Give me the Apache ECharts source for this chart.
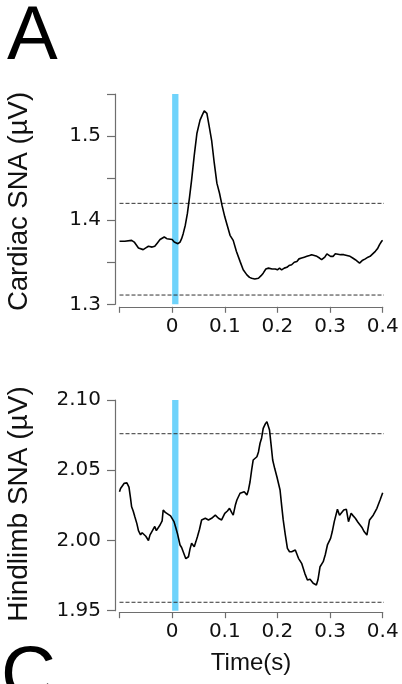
<!DOCTYPE html>
<html>
<head>
<meta charset="utf-8">
<script src="https://cdn.jsdelivr.net/npm/echarts@6/dist/echarts.min.js"></script>
<style>
html,body{margin:0;padding:0;background:#fff;}
#c{width:402px;height:684px;}
</style>
</head>
<body>
<div id="c"></div>
<script>
// ---- data ----
const cardiacTime = [-0.1,-0.09,-0.077,-0.072,-0.064,-0.055,-0.05,-0.045,-0.038,-0.033,-0.028,-0.023,-0.015,-0.01,-0.007,0,0.004,0.007,0.011,0.015,0.018,0.021,0.025,0.029,0.033,0.037,0.042,0.047,0.053,0.058,0.061,0.066,0.07,0.075,0.08,0.085,0.09,0.095,0.1,0.105,0.11,0.116,0.122,0.129,0.135,0.142,0.147,0.151,0.157,0.164,0.169,0.173,0.178,0.183,0.19,0.196,0.2,0.204,0.208,0.213,0.218,0.222,0.227,0.232,0.237,0.241,0.246,0.251,0.256,0.261,0.265,0.27,0.275,0.28,0.284,0.29,0.294,0.297,0.301,0.306,0.31,0.313,0.32,0.326,0.332,0.338,0.343,0.348,0.352,0.356,0.361,0.367,0.372,0.376,0.381,0.386,0.39,0.394,0.398,0.4];
const cardiacValues = [1.375,1.375,1.376,1.374,1.367,1.365,1.367,1.369,1.368,1.369,1.373,1.377,1.380,1.378,1.377,1.377,1.374,1.372,1.372,1.374,1.378,1.384,1.394,1.408,1.427,1.448,1.477,1.503,1.519,1.526,1.530,1.527,1.513,1.495,1.468,1.444,1.432,1.417,1.404,1.393,1.382,1.376,1.363,1.351,1.341,1.335,1.332,1.331,1.330,1.331,1.334,1.337,1.342,1.343,1.342,1.342,1.341,1.343,1.341,1.343,1.344,1.346,1.347,1.350,1.351,1.354,1.355,1.356,1.357,1.358,1.359,1.358,1.357,1.355,1.353,1.356,1.360,1.360,1.357,1.357,1.360,1.360,1.359,1.359,1.358,1.357,1.355,1.353,1.351,1.349,1.352,1.354,1.356,1.357,1.360,1.363,1.366,1.371,1.375,1.376];
const hindlimbTime = [-0.1,-0.098,-0.095,-0.091,-0.086,-0.082,-0.079,-0.077,-0.074,-0.071,-0.067,-0.064,-0.06,-0.057,-0.055,-0.05,-0.045,-0.042,-0.039,-0.033,-0.03,-0.028,-0.023,-0.019,-0.017,-0.013,-0.01,-0.003,0.0035,0.007,0.01,0.015,0.018,0.021,0.026,0.031,0.034,0.037,0.042,0.045,0.048,0.052,0.056,0.063,0.066,0.069,0.075,0.082,0.088,0.094,0.1,0.105,0.109,0.113,0.116,0.12,0.123,0.129,0.137,0.142,0.145,0.148,0.151,0.154,0.161,0.164,0.167,0.17,0.173,0.177,0.18,0.185,0.188,0.191,0.195,0.199,0.205,0.208,0.211,0.215,0.219,0.223,0.227,0.234,0.24,0.246,0.252,0.257,0.262,0.268,0.274,0.277,0.281,0.287,0.291,0.295,0.301,0.304,0.308,0.314,0.318,0.321,0.326,0.331,0.335,0.34,0.344,0.348,0.353,0.357,0.361,0.365,0.37,0.375,0.382,0.389,0.395,0.4];
const hindlimbValues = [2.0347,2.037,2.036,2.0407,2.041,2.038,2.030,2.024,2.021,2.017,2.012,2.007,2.004,2.0055,2.0055,2.003,2.000,2.004,2.006,2.010,2.007,2.008,2.011,2.014,2.0217,2.020,2.019,2.0175,2.0134,2.009,2.005,1.9968,1.995,1.992,1.987,1.9884,1.994,1.998,1.9956,1.999,2.0027,2.008,2.0146,2.0158,2.0145,2.0146,2.0158,2.018,2.0158,2.0146,2.0193,2.021,2.0229,2.020,2.018,2.025,2.0288,2.0336,2.0347,2.0324,2.036,2.0418,2.050,2.0573,2.0596,2.063,2.0692,2.073,2.0798,2.083,2.0846,2.0786,2.068,2.0573,2.051,2.0454,2.0359,2.025,2.0146,2.004,1.9944,1.992,1.992,1.9932,1.9873,1.9837,1.9766,1.9719,1.9724,1.9695,1.9683,1.972,1.9813,1.9849,1.990,1.9968,2.0015,2.006,2.0134,2.0222,2.018,2.0169,2.0217,2.0222,2.0134,2.0193,2.0175,2.0158,2.013,2.011,2.009,2.0062,2.0039,2.0146,2.018,2.0229,2.0288,2.034];
const cardiacThresholds = [1.42, 1.311];
const hindlimbThresholds = [2.076, 1.956];
const stimWindow = [0, 0.012];
const xTickLabels = ['', '0', '0.1', '0.2', '0.3', '0.4'];
const xTickValues = [-0.1, 0, 0.1, 0.2, 0.3, 0.4];
const dashedSpan = [-0.1, 0.41];

// ---- chart ----
const chart = echarts.init(document.getElementById('c'), null, {renderer: 'canvas'});
const axisColor = '#6e6e6e';
const labelFont = 'DejaVu Sans';

function xLabel(v) {
  for (let i = 0; i < xTickValues.length; i++) {
    if (Math.abs(xTickValues[i] - v) < 1e-6) return xTickLabels[i];
  }
  return '';
}

function makeX(gridIndex, offset) {
  return {
    type: 'value', gridIndex: gridIndex, min: -0.1, max: 0.4, interval: 0.1,
    offset: offset,
    splitLine: {show: false},
    axisLine: {show: true, onZero: false, lineStyle: {color: axisColor, width: 1.2}},
    axisTick: {show: true, length: 6, lineStyle: {color: axisColor, width: 1.2}},
    axisLabel: {formatter: xLabel, fontFamily: labelFont, fontSize: 20, color: '#111', margin: 10}
  };
}

function makeY(gridIndex, min, max, fmt) {
  return {
    type: 'value', gridIndex: gridIndex, min: min, max: max, interval: 0.05, offset: 4.5,
    splitLine: {show: false},
    axisLine: {show: true, onZero: false, lineStyle: {color: axisColor, width: 1.2}},
    axisTick: {show: true, length: 8, lineStyle: {color: axisColor, width: 1.2}},
    axisLabel: {formatter: fmt, fontFamily: labelFont, fontSize: 20, color: '#111', margin: 14}
  };
}

const traceLine = {width: 1.6, color: '#000'};
const dashLine = {width: 1, color: '#333', type: [4, 2]};

function thresholdSeries(vals, xi, yi) {
  return vals.map(v => ({
    type: 'line', xAxisIndex: xi, yAxisIndex: yi, clip: false, silent: true,
    showSymbol: false, symbol: 'none',
    data: [[dashedSpan[0], v], [dashedSpan[1], v]],
    lineStyle: dashLine, z: 3
  }));
}

const stimArea = {
  silent: true,
  itemStyle: {color: '#6fd3fb', opacity: 1},
  data: [[{xAxis: stimWindow[0]}, {xAxis: stimWindow[1]}]]
};

const option = {
  animation: false,
  backgroundColor: '#fff',
  grid: [
    {left: 119.5, right: 19.3, top: 94, height: 210.3},
    {left: 119.5, right: 19.3, top: 400, height: 210.7}
  ],
  xAxis: [makeX(0, 2.5), makeX(1, 1.5)],
  yAxis: [
    makeY(0, 1.3, 1.55, v => (Math.abs(Math.round(v * 10) - v * 10) < 1e-6 && v < 1.549) ? v.toFixed(1) : ''),
    makeY(1, 1.95, 2.10, v => v.toFixed(2))
  ],
  series: [
    {
      type: 'line', xAxisIndex: 0, yAxisIndex: 0, showSymbol: false, symbol: 'none',
      data: cardiacTime.map((t, i) => [t, cardiacValues[i]]),
      lineStyle: traceLine, z: 4, markArea: stimArea
    },
    {
      type: 'line', xAxisIndex: 1, yAxisIndex: 1, showSymbol: false, symbol: 'none',
      data: hindlimbTime.map((t, i) => [t, hindlimbValues[i]]),
      lineStyle: traceLine, z: 4, markArea: stimArea
    }
  ].concat(thresholdSeries(cardiacThresholds, 0, 0)).concat(thresholdSeries(hindlimbThresholds, 1, 1)),
  graphic: [
    {type: 'text', x: 7, y: 38, style: {text: 'A', font: '76px "Liberation Sans"', fill: '#000', verticalAlign: 'middle', align: 'left'}},
    {type: 'text', x: 1, y: 678, style: {text: 'C', font: '76px "Liberation Sans"', fill: '#000', verticalAlign: 'middle', align: 'left'}},
    {type: 'text', x: 19, y: 201.5, rotation: Math.PI / 2, style: {text: 'Cardiac SNA (µV)', font: '27.5px "Liberation Sans"', fill: '#111', align: 'center', verticalAlign: 'middle'}},
    {type: 'text', x: 19, y: 504, rotation: Math.PI / 2, style: {text: 'Hindlimb SNA (µV)', font: '28px "Liberation Sans"', fill: '#111', align: 'center', verticalAlign: 'middle'}},
    {type: 'text', x: 251, y: 663, style: {text: 'Time(s)', font: '24px "Liberation Sans"', fill: '#111', align: 'center', verticalAlign: 'middle'}}
  ]
};
chart.setOption(option);
</script>
</body>
</html>
